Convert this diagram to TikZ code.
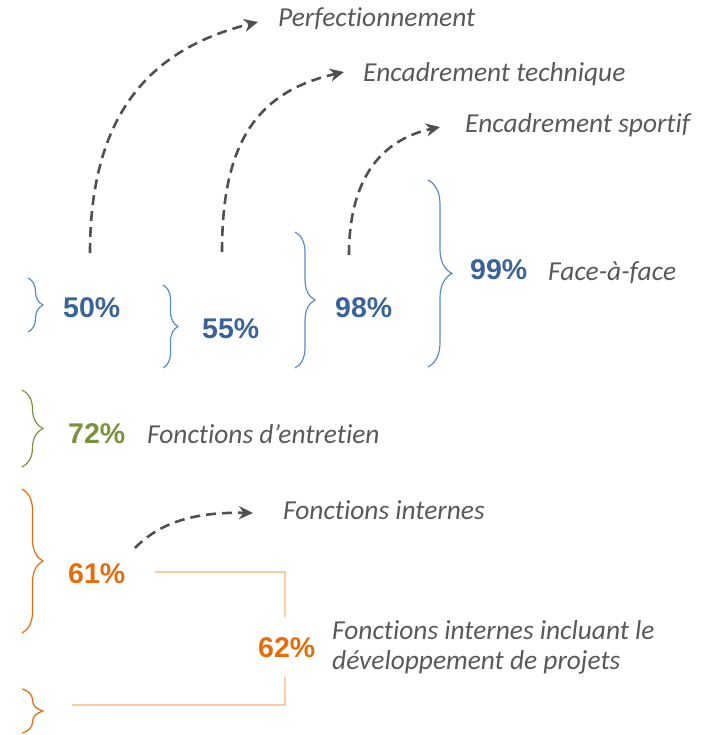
\documentclass[tikz,border=0pt]{standalone}
\usepackage{fontspec}
\setmainfont{Carlito}[Ligatures={NoCommon,NoRequired,NoContextual}]
\newfontfamily\pctfont{Liberation Sans}
\usetikzlibrary{arrows.meta,decorations.pathreplacing}
\definecolor{pblue}{HTML}{3A6397}
\definecolor{bblue}{HTML}{5B8BC9}
\definecolor{pgreen}{HTML}{77933C}
\definecolor{porange}{HTML}{E46C0A}
\definecolor{lorange}{HTML}{FBCBA2}
\definecolor{tgray}{HTML}{595959}
\definecolor{agray}{HTML}{505050}
\tikzset{
  lbl/.style={anchor=base west,inner sep=0pt,text=tgray,font=\fontsize{27.4}{30}\selectfont\itshape},
  pct/.style={anchor=base west,inner sep=0pt,font=\fontsize{28.5}{30}\selectfont\pctfont\bfseries},
  darr/.style={draw=agray,line width=2.6pt,dash pattern=on 10pt off 6pt,-{Stealth[length=14pt,width=13pt]}},
  brc/.style={decorate,line width=1.2pt},
  olink/.style={draw=lorange,line width=1.3pt}
}
\begin{document}
\begin{tikzpicture}[x=1pt,y=-1pt]
\useasboundingbox (0,0) rectangle (718,735);
% labels
\node[lbl] (perf) at (278,27) {Perfectionnement};
\node[lbl] (tech) at (363,82) {Encadrement technique};
\node[lbl] (sport) at (465,133) {Encadrement sportif};
\node[lbl] (face) at (548,280) {Face-à-face};
\node[lbl] (entr) at (147,443) {Fonctions d’entretien};
\node[lbl] (intern) at (283,519) {Fonctions internes};
\node[lbl,align=left,anchor=north west] (proj) at (332,620) {Fonctions internes incluant le\\développement de projets};
% percentages
\node[pct,text=pblue] (p50) at (63,317) {50\%};
\node[pct,text=pblue] (p55) at (202,338) {55\%};
\node[pct,text=pblue] (p98) at (335,317) {98\%};
\node[pct,text=pblue] (p99) at (470,279) {99\%};
\node[pct,text=pgreen] (p72) at (68,443) {72\%};
\node[pct,text=porange] (p61) at (68,583) {61\%};
\node[pct,text=porange] (p62) at (258,657) {62\%};
% braces
\draw[brc,draw=bblue,decoration={brace,amplitude=15pt,aspect=0.5}] (28,278) -- (28,332);
\draw[brc,draw=bblue,decoration={brace,amplitude=15pt,aspect=0.5}] (163,285) -- (163,368);
\draw[brc,draw=bblue,decoration={brace,amplitude=20pt,aspect=0.5}] (295,232) -- (295,368);
\draw[brc,draw=bblue,decoration={brace,amplitude=24pt,aspect=0.5}] (428,180) -- (428,367);
\draw[brc,draw=pgreen,decoration={brace,amplitude=21pt,aspect=0.5}] (22,390) -- (22,467);
\draw[brc,draw=porange,decoration={brace,amplitude=21pt,aspect=0.5}] (22,489) -- (22,633);
\draw[brc,draw=porange,decoration={brace,amplitude=21pt,aspect=0.5}] (22,689) -- (22,733);
% arrow anchors
\coordinate (s50) at (90,253);
\coordinate (e50) at (258,22);
\coordinate (s55) at (222,252);
\coordinate (e55) at (344,72);
\coordinate (s98) at (349,255);
\coordinate (e98) at (440,127);
\coordinate (s61) at (135,548);
\coordinate (e61) at (253,513);
\draw[darr] (s50) .. controls (90,120) and (145,50) .. (e50);
\draw[darr] (s55) .. controls (222,145) and (255,92) .. (e55);
\draw[darr] (s98) .. controls (349,180) and (380,140) .. (e98);
\draw[darr] (s61) .. controls (162,520) and (200,512) .. (e61);
% orange connectors
\coordinate (o1) at (155,572);
\coordinate (o2) at (285,617);
\coordinate (o3) at (285,677);
\coordinate (o4) at (72,705);
\draw[olink] (o1) -| (o2);
\draw[olink] (o3) |- (o4);
\end{tikzpicture}
\end{document}
